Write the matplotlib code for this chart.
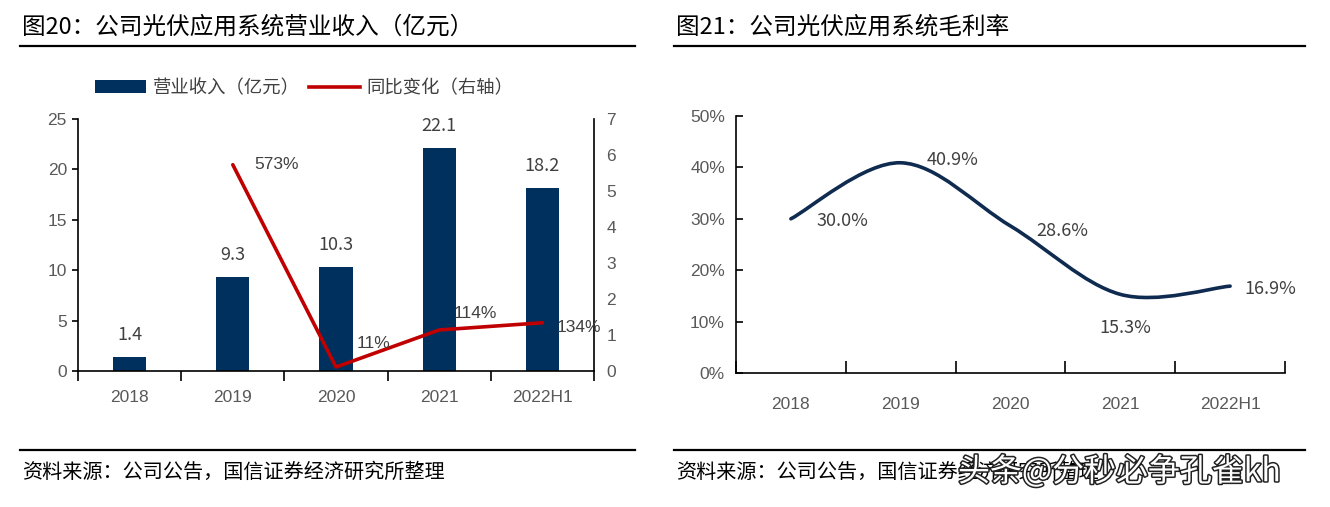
import matplotlib
matplotlib.use("Agg")
import matplotlib.pyplot as plt
from matplotlib.lines import Line2D
from matplotlib.patches import Patch, PathPatch
from matplotlib.path import Path
import matplotlib.patheffects as pe
import numpy as np

plt.rcParams['font.family'] = ['Noto Sans CJK SC', 'DejaVu Sans']

# ---------------- data ----------------
categories = ['2018', '2019', '2020', '2021', '2022H1']
revenue = [1.4, 9.3, 10.3, 22.1, 18.2]             # 亿元
yoy = [None, 5.73, 0.11, 1.14, 1.34]               # 同比 (x100%)
yoy_labels = ['', '573%', '11%', '114%', '134%']
margin = [30.0, 40.9, 28.6, 15.3, 16.9]            # %

rev_ticks = [0, 5, 10, 15, 20, 25]
yoy_ticks = [0, 1, 2, 3, 4, 5, 6, 7]
margin_ticks = [0, 10, 20, 30, 40, 50]

title1 = '图20：公司光伏应用系统营业收入（亿元）'
title2 = '图21：公司光伏应用系统毛利率'
source = '资料来源：公司公告，国信证券经济研究所整理'
legend_bar = '营业收入（亿元）'
legend_line = '同比变化（右轴）'
watermark = '头条@分秒必争孔雀kh'

NAVY = '#00305E'
RED = '#C00000'
LINE_NAVY = '#0F2B50'
TICK_C = '#595959'
NARROW = ['Liberation Sans Narrow', 'Liberation Sans', 'DejaVu Sans']
CJK = ['Noto Sans CJK SC', 'DejaVu Sans']

W, H = 1330, 507
fig = plt.figure(figsize=(W / 100, H / 100), dpi=100)
fig.patch.set_facecolor('white')


def px_axes(x0, x1, ytop, ybot):
    return fig.add_axes([x0 / W, 1 - ybot / H, (x1 - x0) / W, (ybot - ytop) / H])


def fx(x):
    return x / W


def fy(y):
    return 1 - y / H


# ---------------- headers / footers ----------------
for (x0, x1, title) in [(22, 635, title1), (676, 1305, title2)]:
    fig.text(fx(x0), fy(27), title, fontsize=17, fontweight='medium',
             va='center', ha='left', family=CJK, color='black')
    fig.add_artist(Line2D([fx(x0 - 2), fx(x1)], [fy(46), fy(46)], color='black', lw=1.6))
    fig.add_artist(Line2D([fx(x0 - 2), fx(x1)], [fy(450), fy(450)], color='black', lw=1.6))
    fig.text(fx(x0), fy(472), source, fontsize=14.5, va='center', ha='left',
             family=CJK, color='black')

wm = fig.text(fx(958), fy(472), watermark, fontsize=23, va='center', ha='left',
              family=CJK, color='white')
wm.set_path_effects([pe.withStroke(linewidth=2.2, foreground='#222222')])

# ---------------- chart 1 ----------------
ax = px_axes(78, 594, 119, 371)
x = np.arange(len(categories))
ax.bar(x, revenue, width=0.32, color=NAVY, zorder=2)
ax.set_xlim(-0.5, len(categories) - 0.5)
ax.set_ylim(0, 25)
ax.set_yticks(rev_ticks)
ax.set_xticks(x)
ax.set_xticklabels(categories)
ax.set_xticks(np.arange(-0.5, len(categories)), minor=True)
ax.tick_params(axis='x', which='major', length=0, pad=14, labelsize=12.5, labelcolor=TICK_C)
ax.tick_params(axis='x', which='minor', length=7, width=1.2, direction='out', color='black')
ax.tick_params(axis='y', length=4, width=1.2, direction='out', pad=4, labelsize=12.5,
               labelcolor=TICK_C)
for lab in ax.get_xticklabels() + ax.get_yticklabels():
    lab.set_family(NARROW)
for s in ['top', 'right']:
    ax.spines[s].set_visible(False)
for s in ['left', 'bottom']:
    ax.spines[s].set_linewidth(1.2)
for xi, v in zip(x, revenue):
    ax.annotate(f'{v:.1f}', (xi, v), xytext=(0, 22), textcoords='offset pixels',
                ha='center', va='center', fontsize=13, family=CJK, color='#404040')

ax2 = ax.twinx()
ax2.set_ylim(0, 7)
ax2.set_yticks(yoy_ticks)
ax2.tick_params(axis='y', length=0, pad=9, labelsize=12.5, labelcolor=TICK_C)
for lab in ax2.get_yticklabels():
    lab.set_family(NARROW)
for s in ['top', 'left', 'bottom']:
    ax2.spines[s].set_visible(False)
ax2.spines['right'].set_linewidth(1.2)
lx = [xi for xi, v in zip(x, yoy) if v is not None]
ly = [v for v in yoy if v is not None]
ax2.plot(lx, ly, color=RED, lw=2.6, zorder=3, solid_capstyle='round')
yoy_offsets = {1: (44, 0), 2: (38, 24), 3: (36, 16), 4: (36, -5)}
for i, (v, lab) in enumerate(zip(yoy, yoy_labels)):
    if v is None:
        continue
    dx, dy = yoy_offsets[i]
    ax2.annotate(lab, (x[i], v), xytext=(dx, dy), textcoords='offset pixels',
                 ha='center', va='center', fontsize=12.5, family=NARROW, color='#404040')

fig.legend(handles=[Patch(facecolor=NAVY, edgecolor='none', label=legend_bar),
                    Line2D([0], [0], color=RED, lw=2.6, label=legend_line)],
           loc='center', bbox_to_anchor=(fx(304), fy(88)), ncol=2, frameon=False,
           handlelength=2.8, handleheight=0.7, handletextpad=0.35,
           columnspacing=0.5, prop={'family': CJK, 'size': 13.2}, labelcolor='#404040')

# ---------------- chart 2 ----------------
bx = px_axes(736, 1285, 116, 373)
bx.set_xlim(-0.5, len(categories) - 0.5)
bx.set_ylim(0, 50)
bx.set_yticks(margin_ticks)
bx.set_yticklabels([f'{t}%' for t in margin_ticks])
bx.set_xticks(x)
bx.set_xticklabels(categories)
bx.set_xticks(np.arange(-0.5, len(categories)), minor=True)
bx.tick_params(axis='x', which='major', length=0, pad=17, labelsize=12.5, labelcolor=TICK_C)
bx.tick_params(axis='x', which='minor', length=9, width=1.2, direction='in', color='black')
bx.tick_params(axis='y', length=5, width=1.2, direction='in', pad=8, labelsize=12.5,
               labelcolor=TICK_C)
for lab in bx.get_xticklabels() + bx.get_yticklabels():
    lab.set_family(NARROW)
for s in ['top', 'right']:
    bx.spines[s].set_visible(False)
for s in ['left', 'bottom']:
    bx.spines[s].set_linewidth(1.2)

# smoothed (Catmull-Rom -> cubic Bezier) line, like Excel's smoothed line
pts = np.column_stack([x.astype(float), np.array(margin, dtype=float)])
n = len(pts)
verts = [tuple(pts[0])]
codes = [Path.MOVETO]
for i in range(n - 1):
    p0 = pts[i - 1] if i > 0 else pts[i]
    p1 = pts[i]
    p2 = pts[i + 1]
    p3 = pts[i + 2] if i + 2 < n else pts[i + 1]
    c1 = p1 + (p2 - p0) / 6.0
    c2 = p2 - (p3 - p1) / 6.0
    verts += [tuple(c1), tuple(c2), tuple(p2)]
    codes += [Path.CURVE4] * 3
bx.add_patch(PathPatch(Path(verts, codes), facecolor='none', edgecolor=LINE_NAVY,
                       lw=2.6, capstyle='round', zorder=3))
m_offsets = [(52, -2), (52, 3), (52, -5), (5, -34), (40, -3)]
for i, v in enumerate(margin):
    dx, dy = m_offsets[i]
    bx.annotate(f'{v:.1f}%', (x[i], v), xytext=(dx, dy), textcoords='offset pixels',
                ha='center', va='center', fontsize=13, family=CJK, color='#404040')

fig.savefig('out.png', dpi=100, facecolor='white')
